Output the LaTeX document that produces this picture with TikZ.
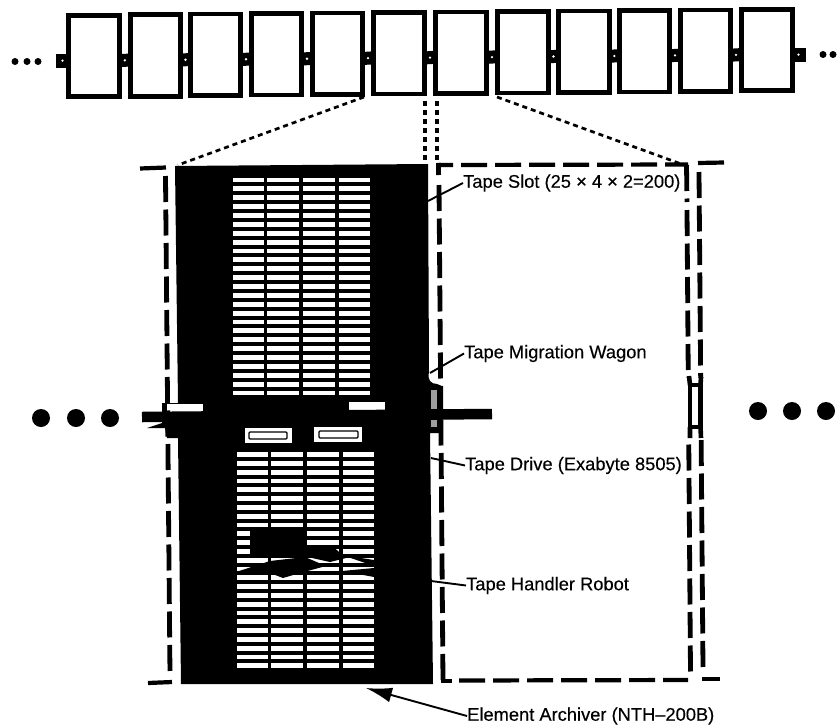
\documentclass[tikz,border=0pt]{standalone}
\usepackage{fontspec}
\setmainfont{Liberation Sans}
\newfontfamily\calloutfont[FakeBold=0.25]{Liberation Sans}
\usetikzlibrary{arrows.meta,calc}
\definecolor{dither}{gray}{0.62}
\tikzset{
  unitbox/.style={draw=black,fill=white,line width=4.6pt,minimum height=81.5pt,inner sep=0pt},
  pindot/.style={circle,fill=white,inner sep=0pt,minimum size=2.6pt},
  zoomline/.style={line width=2.7pt,dash pattern=on 5pt off 4pt},
  zoomlineV/.style={line width=3.6pt,dash pattern=on 5pt off 4pt},
  framedashH/.style={line width=4.2pt,dash pattern=on 26pt off 8pt},
  framedashV/.style={line width=4.8pt,dash pattern=on 26pt off 7.5pt},
  slotline/.style={draw=white,line width=4.8pt,line cap=butt,rounded corners=0pt},
  callout/.style={anchor=west,inner sep=0pt,font=\calloutfont\fontsize{18.3}{20}\selectfont},
  leaderline/.style={line width=1.9pt},
  smalldot/.style={circle,fill=black,inner sep=0pt,minimum size=7pt},
  bigdot/.style={circle,fill=black,inner sep=0pt,minimum size=18pt},
  drivebay/.style={draw=black,fill=white,line width=1.2pt,rounded corners=1pt},
}
\begin{document}
\begin{tikzpicture}[x=1pt,y=-1pt]
\useasboundingbox (0,0) rectangle (837,726);

% ---- top row of archiver units
\foreach \i/\xa/\xb in {1/66/121.7,2/128/183,3/188/243,4/249/304,5/310/365,6/371/427,7/433/489,8/495/551,9/556/611.7,10/617/672,11/678/733,12/739/795}{
  \pgfmathsetmacro{\cx}{(\xa+\xb)/2}
  \pgfmathsetmacro{\cy}{56-0.0089*(\cx-94)}
  \pgfmathsetmacro{\boxw}{\xb-\xa-4.6}
  \node[unitbox,minimum width=\boxw pt] (b\i) at (\cx,\cy) {};
}
\foreach \a/\b in {1/2,2/3,3/4,4/5,5/6,6/7,7/8,8/9,9/10,10/11,11/12}{
  \draw[line width=13pt] ($(b\a.east)+(-1.5,4.6)$) -- ($(b\b.west)+(1.5,4.6)$);
  \node[pindot] at ($(b\a.east)!0.5!(b\b.west)+(0,4.6)$) {};
}
\coordinate (stubL) at ($(b1.west)+(-10.5,4.6)$);
\coordinate (stubR) at ($(b12.east)+(10.5,4.6)$);
\draw[line width=14pt] (stubL) -- ($(b1.west)+(1.5,4.6)$);
\draw[line width=14pt] ($(b12.east)+(-1.5,4.6)$) -- (stubR);
\node[pindot] at ($(stubL)+(7,0)$) {};
\node[pindot] at ($(stubR)+(-7,0)$) {};
\foreach \n/\x/\y in {s1/15/61.5,s2/27/61.5,s3/38/61.5,s4/823/54.5,s5/833/54.5}
  \node[smalldot] (\n) at (\x,\y) {};

% ---- the black archiver body
\fill[black] (175,166) -- (428,164) -- (429,372)
  .. controls (427,380) and (431,384) .. (437,384)
  .. controls (440,384) and (442,386) .. (442,390)
  -- (442,433) -- (430,433) -- (433,684) -- (181,684) -- (178,438) -- (167,438)
  -- (165,428) -- (147,428) -- (162,423) -- (162,403) -- (178,403) -- cycle;
\fill[dither] (431,390) rectangle (436.5,409);
\fill[dither] (431,420) rectangle (436.5,427);

% ---- tape slots
\foreach \r in {0,...,24}{
  \pgfmathsetmacro{\yu}{180+8.875*\r}
  \pgfmathsetmacro{\yl}{454.5+8.8*\r}
  \foreach \xa/\xb in {233/263.5,267/298.5,303/334.5,339/369.5}
    \draw[slotline] (\xa,\yu) -- (\xb,\yu);
  \foreach \xa/\xb in {237/267.5,271/302.5,307/338.5,343/373.5}
    \draw[slotline] (\xa,\yl) -- (\xb,\yl);
}

% ---- tape handler robot
\fill[black] (250,528) rectangle (303,556);
\fill[black] (303,545) -- (331,545) -- (346,558) -- (330,562) -- (303,556) -- cycle;
\fill[black] (236,572) -- (270,561) -- (305,557) -- (326,566) -- (300,573) -- (283,578) -- (270,573) -- cycle;
\fill[black] (342,555) -- (374,566) -- (374,560) -- cycle;
\fill[black] (342,571) -- (374,568) -- (374,577) -- cycle;

% ---- wagon and rail
\fill[white] (167,404) rectangle (203,412);
\fill[white] (349,402) rectangle (385,410);
\coordinate (railL) at (142,417);
\coordinate (railR) at (492,414);
\draw[line width=10.5pt] (railL) -- (railR);

% ---- tape drives
\fill[white] (245,428) rectangle (292,443);
\fill[white] (314,427) rectangle (362,442);
\draw[drivebay] (249,432) rectangle (287,439);
\draw[drivebay] (319,431) rectangle (358,438);

% ---- dashed frames
\draw[framedashH] (140,168.5) -- (166,167.5);
\draw[framedashV] (165.5,176) -- (170,675);
\draw[framedashH] (148,683) -- (172,682);
\draw[framedashH,dash phase=10pt] (437,165) -- (688,164.5);
\draw[framedashV] (686.5,165) -- (687,202);
\draw[framedashV] (687,210) -- (690.5,673);
\draw[framedashV] (438.5,163) -- (438.6,175);
\draw[framedashV] (439,185) -- (443,682);
\draw[framedashH] (441,681) -- (452,681);
\draw[framedashH] (459,680.5) -- (688,680);
\draw[framedashV] (699,172) -- (703,669);
\draw[framedashH] (698,163) -- (724,162.5);
\draw[framedashH] (702,679) -- (720,679);

% ---- joint on the right frame
\fill[white] (685,378) rectangle (706,440);
\draw[line width=4.6pt] (690,385) rectangle (700.5,427);
\draw[line width=4.6pt] (689,376) -- (690,385) (701,377) -- (700.5,385);
\draw[line width=4.6pt] (690,427) -- (690,438) (700.5,427) -- (701,438);

% ---- dotted zoom lines
\coordinate (z1a) at (364,97);
\coordinate (z1b) at (178,165);
\coordinate (z2a) at (425,101);
\coordinate (z2b) at (425,164);
\coordinate (z3a) at (437,101);
\coordinate (z3b) at (437,163);
\coordinate (z4a) at (497,97);
\coordinate (z4b) at (684,165);
\draw[zoomline] (z1a) -- (z1b);
\draw[zoomlineV] (z2a) -- (z2b);
\draw[zoomlineV] (z3a) -- (z3b);
\draw[zoomline] (z4a) -- (z4b);

% ---- big ellipsis dots
\foreach \n/\x/\y in {d1/41/418,d2/76/418,d3/110/418,d4/758/411,d5/792/411,d6/826/411}
  \node[bigdot] (\n) at (\x,\y) {};

% ---- labels and leaders
\node[callout] (slot) at (463,183) {Tape Slot (25 × 4 × 2=200)};
\node[callout] (wagon) at (464,353.5) {Tape Migration Wagon};
\node[callout] (drive) at (465,465.5) {Tape Drive (Exabyte 8505)};
\node[callout] (robot) at (466,585.5) {Tape Handler Robot};
\node[callout] (arch) at (467,716) {Element Archiver (NTH–200B)};
\coordinate (tslot) at (428,201);
\coordinate (twagon) at (430,373);
\coordinate (tdrive) at (431,458);
\coordinate (trobot) at (431,581);
\coordinate (tarch) at (366,688);
\draw[leaderline] (slot.west) -- (tslot);
\draw[leaderline] (wagon.west) -- (twagon);
\draw[leaderline] (drive.west) -- (tdrive);
\draw[leaderline] (robot.west) -- (trobot);
\draw[leaderline,-{Latex[length=26pt,width=15pt]}] (arch.west) -- (tarch);
\end{tikzpicture}
\end{document}
